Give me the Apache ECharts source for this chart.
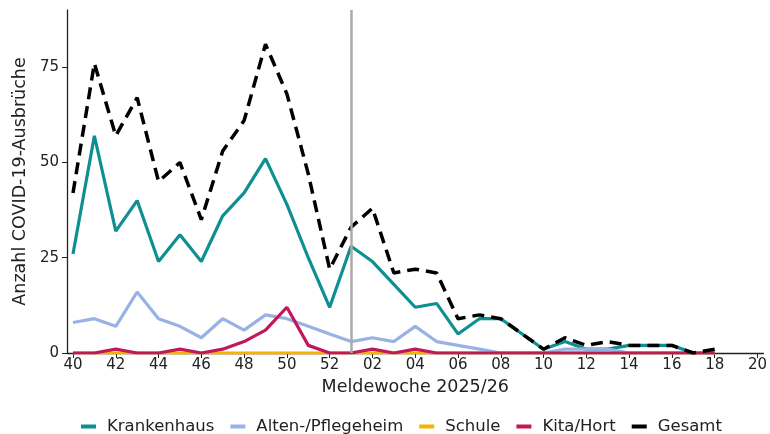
<!DOCTYPE html>
<html>
<head>
<meta charset="utf-8">
<script src="https://cdn.jsdelivr.net/npm/echarts@6/dist/echarts.min.js"></script>
<style>
  html, body { margin: 0; padding: 0; background: #fff; }
  #chart { width: 770px; height: 434px; }
</style>
</head>
<body>
<div id="chart"></div>
<script>
// Meldewochen 40..52, dann 01..18 (Achse bis 20)
var weeks = ['40','41','42','43','44','45','46','47','48','49','50','51','52',
  '01','02','03','04','05','06','07','08','09','10','11','12','13','14','15','16','17','18','19','20']

var krankenhaus = [26,57,32,40,24,31,24,36,42,51,39,25,12, 28,24,18,12,13,5,9,9,5,1,3,1,1,2,2,2,0,0]
var altenheim   = [8,9,7,16,9,7,4,9,6,10,9,7,5, 3,4,3,7,3,2,1,0,0,0,1,1,1,0,0,0,0,0]
var schule      = [0,0,0,0,0,0,0,0,0,0,0,0,0, 0,0,0,0,0,0,0,0,0,0,0,0,0,0,0,0,0,0]
var kita        = [0,0,1,0,0,1,0,1,3,6,12,2,0, 0,1,0,1,0,0,0,0,0,0,0,0,0,0,0,0,0,0]
var gesamt      = [42,76,57,67,45,50,35,53,61,81,68,47,22, 33,38,21,22,21,9,10,9,5,1,4,2,3,2,2,2,0,1]

var yTicks = [0, 25, 50, 75]
var xTicks = []
for (var i = 0; i < weeks.length; i += 2) xTicks.push(i)

var font = 'DejaVu Sans'

function pairs(arr) {
  return arr.map(function (v, i) { return [i, v] })
}

function line(name, data, color, extra) {
  var s = {
    name: name,
    type: 'line',
    data: pairs(data),
    symbol: 'none',
    lineStyle: { color: color, width: 3.2 },
    itemStyle: { color: color },
    emphasis: { disabled: true }
  }
  return Object.assign(s, extra || {})
}

var chart = echarts.init(document.getElementById('chart'))
var option = {
  animation: false,
  textStyle: { fontFamily: font },
  grid: { left: 67, right: 5, top: 10, bottom: 81 },
  legend: {
    top: 413,
    left: 76,
    itemWidth: 15,
    itemHeight: 4,
    itemGap: 16,
    icon: 'rect',
    textStyle: { fontFamily: font, fontSize: 16.5, color: '#222', padding: [0, 0, 0, 6] },
    data: ['Krankenhaus', 'Alten-/Pflegeheim', 'Schule', 'Kita/Hort', 'Gesamt']
  },
  xAxis: {
    type: 'value',
    min: -0.28,
    max: 32.28,
    name: 'Meldewoche 2025/26',
    nameLocation: 'middle',
    nameGap: 25,
    nameTextStyle: { fontFamily: font, fontSize: 17.5, color: '#222' },
    axisLine: { onZero: false, lineStyle: { color: '#222', width: 1.3 } },
    axisTick: { show: true, customValues: xTicks, length: 5, lineStyle: { color: '#222' } },
    axisLabel: {
      customValues: xTicks,
      formatter: function (v) { return weeks[Math.round(v)] },
      fontFamily: font, fontSize: 15, color: '#222', margin: 5
    },
    splitLine: { show: false }
  },
  yAxis: {
    type: 'value',
    min: 0,
    max: 90,
    interval: 25,
    name: 'Anzahl COVID-19-Ausbrüche',
    nameLocation: 'middle',
    nameGap: 37,
    nameTextStyle: { fontFamily: font, fontSize: 17.5, color: '#222' },
    axisLine: { show: true, onZero: false, lineStyle: { color: '#222', width: 1.3 } },
    axisTick: { show: true, customValues: yTicks, length: 5, lineStyle: { color: '#222' } },
    axisLabel: { customValues: yTicks, fontFamily: font, fontSize: 15, color: '#222', margin: 8 },
    splitLine: { show: false }
  },
  series: [
    line('Krankenhaus', krankenhaus, '#0e8f92', {
      markLine: {
        silent: true,
        symbol: 'none',
        label: { show: false },
        lineStyle: { color: '#aaaaaa', width: 2.5, type: 'solid' },
        data: [{ xAxis: 13 }]
      }
    }),
    line('Alten-/Pflegeheim', altenheim, '#98b2e4'),
    line('Schule', schule, '#f4b400'),
    line('Kita/Hort', kita, '#c2185b'),
    line('Gesamt', gesamt, '#000000', {
      lineStyle: { color: '#000', width: 3.5, type: [12, 7] }
    })
  ]
}
chart.setOption(option)
</script>
</body>
</html>
